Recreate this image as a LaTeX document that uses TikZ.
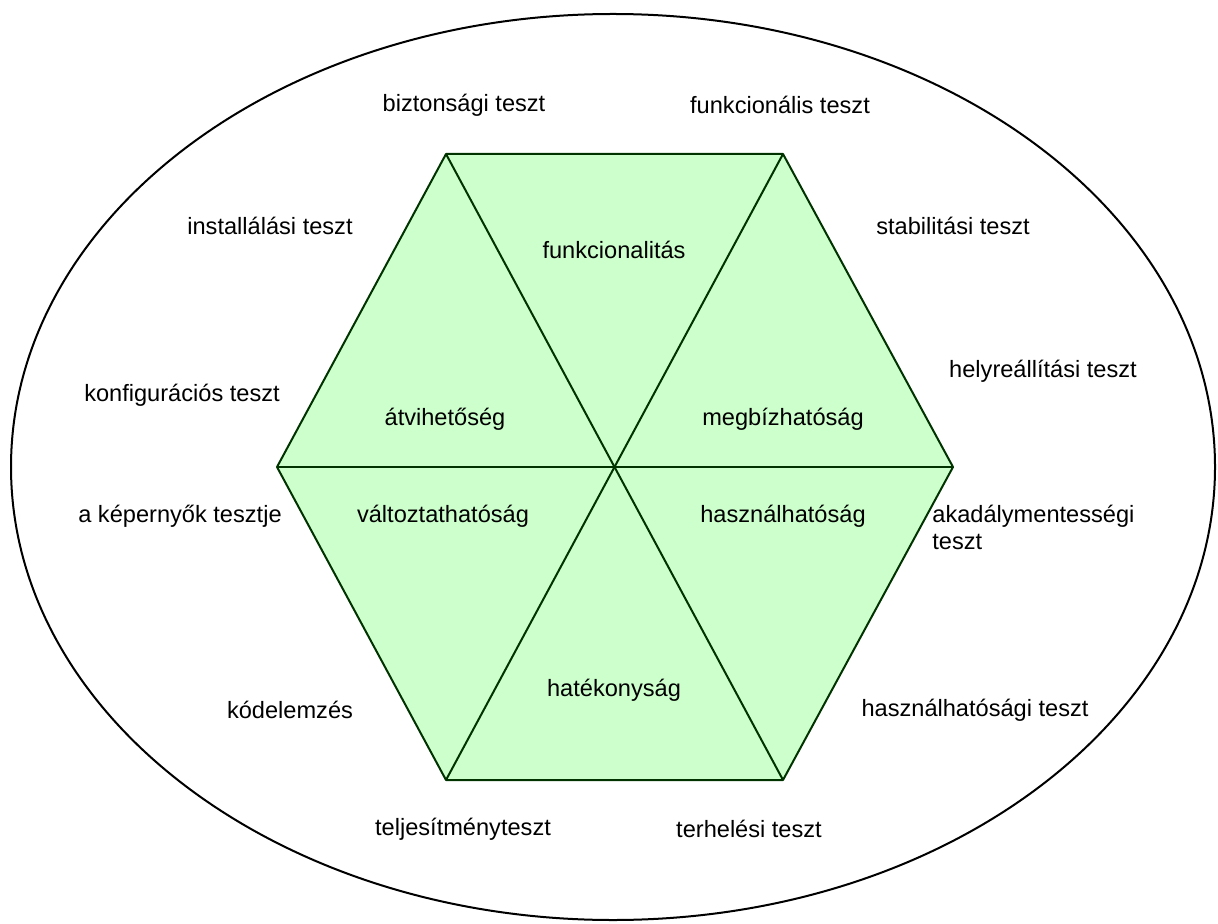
\documentclass[tikz,border=0pt]{standalone}
\usepackage{fontspec}
\setmainfont{Liberation Sans}
\usepackage{xcolor}
\usetikzlibrary{positioning,shapes.geometric}
\definecolor{hexfill}{HTML}{CCFFCC}
\definecolor{hexline}{HTML}{003300}

\begin{document}
\begin{tikzpicture}[
x=0.5pt, y=-0.5pt,
lbl/.style={font=\fontsize{11.8}{13.5}\selectfont, inner sep=0pt, align=center},
side/.style={draw=hexline, line width=1pt, line join=round},
outer/.style={draw=black, line width=1pt}
]
\useasboundingbox (0,0) rectangle (1218,924);
\node[outer, ellipse, minimum width=1204*0.5pt, minimum height=906*0.5pt, inner sep=0pt] (oval) at (613,467) {};

% hexagon corners
\coordinate (mid) at (614,467);
\coordinate (tl) at (446,154);
\coordinate (tr) at (783,154);
\coordinate (rt) at (953,467);
\coordinate (br) at (783,780);
\coordinate (bl) at (446,780);
\coordinate (lt) at (277,467);

\fill[hexfill] (tl) -- (tr) -- (rt) -- (br) -- (bl) -- (lt) -- cycle;
\draw[side] (tl) -- (tr) -- (rt) -- (br) -- (bl) -- (lt) -- cycle;
\draw[side] (tl) -- (br);
\draw[side] (tr) -- (bl);
\draw[side] (lt) -- (rt);

% quality areas
\node[lbl] (func) at (614,250) {funkcionalitás};
\node[lbl] (port) at (445,419) {átvihetőség};
\node[lbl] (reli) at (783,419) {megbízhatóság};
\node[lbl] (main) at (443,516) {változtathatóság};
\node[lbl] (usab) at (783,516) {használhatóság};
\node[lbl] (effi) at (614,690) {hatékonyság};

% tests
\node[lbl] (sec) at (464,105) {biztonsági teszt};
\node[lbl] (fun) at (780,105) {funkcionális teszt};
\node[lbl] (ins) at (270,226) {installálási teszt};
\node[lbl] (sta) at (953,226) {stabilitási teszt};
\node[lbl] (cfg) at (182,395) {konfigurációs teszt};
\node[lbl] (rec) at (1043,371) {helyreállítási teszt};
\node[lbl] (scr) at (180,516) {a képernyők tesztje};
\node[lbl, align=left, anchor=west] (acc) at (932,527) {akadálymentességi\\teszt};
\node[lbl] (cod) at (290,710) {kódelemzés};
\node[lbl] (use) at (975,710) {használhatósági teszt};
\node[lbl] (per) at (463,829) {teljesítményteszt};
\node[lbl] (lod) at (749,829) {terhelési teszt};
\end{tikzpicture}
\end{document}
